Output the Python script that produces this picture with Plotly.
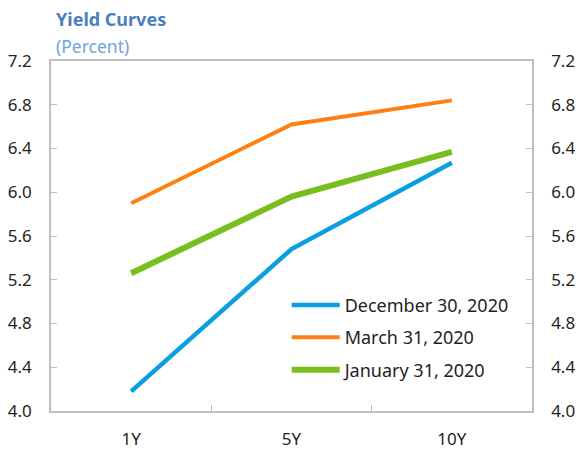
import plotly.graph_objects as go

categories = ["1Y", "5Y", "10Y"]
dec_30_2020 = [4.18, 5.48, 6.27]
mar_31_2020 = [5.90, 6.62, 6.84]
jan_31_2020 = [5.26, 5.96, 6.37]
series_names = ["December 30, 2020", "March 31, 2020", "January 31, 2020"]
y_ticks = [4.0, 4.4, 4.8, 5.2, 5.6, 6.0, 6.4, 6.8, 7.2]

colors = ["#0A9FE3", "#FF8012", "#78BE20"]
widths = [4.5, 4.0, 6.0]

fig = go.Figure()
for name, vals, c, w in zip(series_names, [dec_30_2020, mar_31_2020, jan_31_2020], colors, widths):
    fig.add_trace(go.Scatter(x=categories, y=vals, name=name, mode="lines",
                             line=dict(color=c, width=w), legendgroup=name))
# invisible trace to activate right axis
fig.add_trace(go.Scatter(x=categories, y=dec_30_2020, yaxis="y2", showlegend=False,
                         mode="lines", line=dict(width=0), hoverinfo="skip", opacity=0))

font_family = "Noto Sans"
tick_font = dict(family=font_family, size=17, color="#231F20")
axis_col = "#BFBFBF"
yfmt = dict(range=[4.0, 7.2], tickvals=y_ticks, ticktext=[f"{v:.1f}" for v in y_ticks],
            ticks="inside", ticklen=6, tickcolor=axis_col, showgrid=False, zeroline=False,
            showline=True, linecolor=axis_col, linewidth=1.5, tickfont=tick_font,
            ticklabelstandoff=14, automargin=False)

fig.update_layout(
    width=581, height=451,
    margin=dict(l=51, r=49, t=61, b=40),
    paper_bgcolor="white", plot_bgcolor="white",
    showlegend=True,
    legend=dict(x=0.49, y=0.355, xanchor="left", yanchor="top",
                font=dict(family=font_family, size=18, color="#231F20"),
                tracegroupgap=6, bgcolor="rgba(0,0,0,0)", itemwidth=48),
    xaxis=dict(type="category", tickson="boundaries", ticks="inside", ticklen=6,
               tickcolor=axis_col, showgrid=False, showline=True, linecolor=axis_col,
               linewidth=1.5, mirror=True, tickfont=tick_font, ticklabelstandoff=12,
               range=[-0.5, 2.5], automargin=False),
    yaxis=dict(**yfmt, side="left"),
    yaxis2=dict(**yfmt, side="right", overlaying="y"),
    annotations=[
        dict(text="<b>Yield Curves</b>", xref="paper", yref="paper", x=0.006, y=1.0,
             yshift=42, xanchor="left", yanchor="middle", showarrow=False,
             font=dict(family=font_family, size=18, color="#4A80BE")),
        dict(text="(Percent)", xref="paper", yref="paper", x=0.006, y=1.0,
             yshift=15, xanchor="left", yanchor="middle", showarrow=False,
             font=dict(family=font_family, size=17.5, color="#6EA5DA")),
    ],
)

fig.write_html("out.html")
